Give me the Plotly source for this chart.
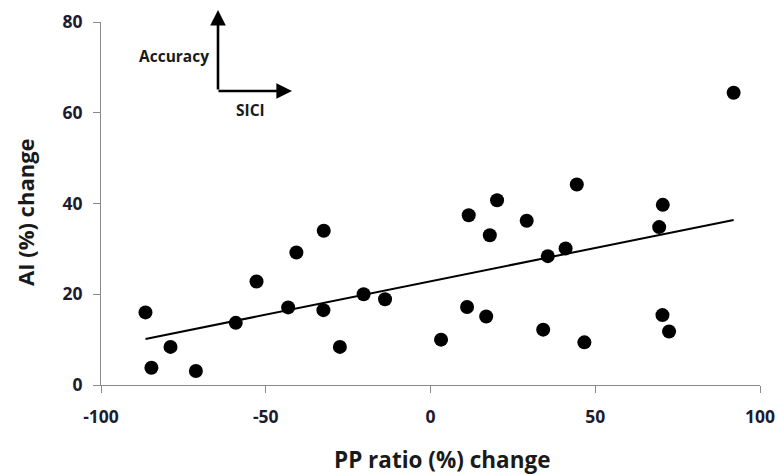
import numpy as np
import plotly.graph_objects as go

# Data
pp_ratio_change = [-86.5, -84.7, -78.9, -71.2, -59.1, -52.8, -43.2, -40.7, -32.4, -32.5,
                   -27.5, -20.3, -13.8, 3.2, 11.6, 11.1, 20.2, 18.0, 16.9, 29.2,
                   35.6, 34.2, 41.0, 44.4, 46.7, 69.4, 70.5, 70.4, 72.4, 92.0]
ai_change = [16.0, 3.8, 8.4, 3.1, 13.7, 22.8, 17.1, 29.2, 34.0, 16.5,
             8.4, 20.0, 18.9, 10.0, 37.4, 17.2, 40.7, 33.0, 15.1, 36.2,
             28.4, 12.2, 30.1, 44.2, 9.4, 34.8, 39.7, 15.4, 11.8, 64.4]
x_ticks = [-100, -50, 0, 50, 100]
x_tick_labels = ["-100", "-50", "0", "50", "100"]
y_ticks = [0, 20, 40, 60, 80]
y_tick_labels = ["0", "20", "40", "60", "80"]

xs = np.array(pp_ratio_change)
ys = np.array(ai_change)
slope, intercept = np.polyfit(xs, ys, 1)
line_x = np.array([xs.min(), xs.max()])
line_y = slope * line_x + intercept

fig = go.Figure()
fig.add_trace(go.Scatter(x=xs, y=ys, mode="markers",
                         marker=dict(size=14, color="black"), showlegend=False))
fig.add_trace(go.Scatter(x=line_x, y=line_y, mode="lines",
                         line=dict(color="black", width=2), showlegend=False))

tick_font = dict(family="Open Sans", size=17.5, color="#1c1c2e", weight="bold")
axis_common = dict(showgrid=False, zeroline=False, showline=True, linecolor="#8a8a8a",
                   linewidth=1, ticks="outside", ticklen=7, tickcolor="#8a8a8a",
                   tickfont=tick_font, automargin=False)

L, R, T, B = 101, 17, 22, 89
W, H = 777, 474
pw, ph = W - L - R, H - T - B

def px(xp):
    return (xp - L) / pw

def py(yp):
    return (H - B - yp) / ph

fig.update_layout(
    width=W, height=H,
    margin=dict(l=L, r=R, t=T, b=B),
    plot_bgcolor="white", paper_bgcolor="white",
    xaxis=dict(range=[-100, 100], tickvals=x_ticks, ticktext=x_tick_labels,
               ticklabelstandoff=9, **axis_common),
    yaxis=dict(range=[0, 80], tickvals=y_ticks, ticktext=y_tick_labels,
               ticklabelstandoff=7, **axis_common),
)

title_font = dict(family="Open Sans", size=22.5, color="#1a1a1a")
fig.add_annotation(xref="paper", yref="paper", x=px(442), y=py(459),
                   text="<b>PP ratio (%) change</b>", showarrow=False,
                   xanchor="center", yanchor="middle", font=title_font)
fig.add_annotation(xref="paper", yref="paper", x=px(25), y=py(212),
                   text="<b>AI (%) change</b>", showarrow=False, textangle=-90,
                   xanchor="center", yanchor="middle", font=dict(title_font, size=22))

# Arrows (axes diagram)
fig.add_annotation(xref="paper", yref="paper", x=px(218), y=py(10),
                   ax=0, ay=81, text="", showarrow=True, arrowhead=2, arrowsize=1.2,
                   arrowwidth=2.6, arrowcolor="black")
fig.add_annotation(xref="paper", yref="paper", x=px(292), y=py(91),
                   ax=-75, ay=0, text="", showarrow=True, arrowhead=2, arrowsize=1.2,
                   arrowwidth=2.6, arrowcolor="black")
fig.add_annotation(xref="paper", yref="paper", x=px(211), y=py(56),
                   text="<b>Accuracy</b>", showarrow=False, xanchor="right", yanchor="middle",
                   font=dict(family="Open Sans", size=15.5, color="#1a1a1a"))
fig.add_annotation(xref="paper", yref="paper", x=px(250), y=py(110),
                   text="<b>SICI</b>", showarrow=False, xanchor="center", yanchor="middle",
                   font=dict(family="Open Sans", size=15.5, color="#1a1a1a"))

fig.write_html("out.html")
